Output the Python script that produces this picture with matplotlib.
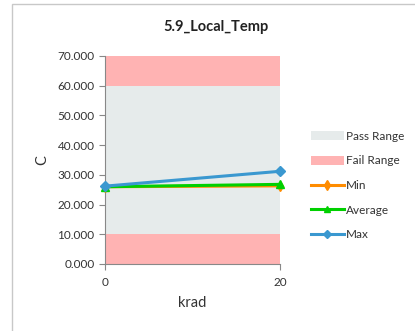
import matplotlib
matplotlib.use("Agg")
import matplotlib.pyplot as plt
from matplotlib.patches import Patch, Rectangle
from matplotlib.lines import Line2D
import numpy as np

plt.rcParams['font.family'] = ['Lato', 'DejaVu Sans']

krad = [0, 20]
min_vals = [26.0, 26.3]
avg_vals = [26.0, 26.8]
max_vals = [26.2, 31.2]
fail_low = [10, 10]
pass_band = [50, 50]
fail_high = [10, 10]
yticks = [0, 10, 20, 30, 40, 50, 60, 70]

c_pass = '#E6EBEB'
c_fail = '#FFB3B3'
c_min = '#FF8C00'
c_avg = '#00D000'
c_max = '#3A98D0'

fig = plt.figure(figsize=(4.15, 3.31), dpi=100)
fig.patches.append(Rectangle((12/415, -0.1), 1.2, 1 - 4/331 + 0.1, transform=fig.transFigure,
                             fill=False, edgecolor='#C8C8C8', linewidth=1.0))
ax = fig.add_axes([105/415, 1 - 264/331, 175/415, 208/331])

b1 = np.array(fail_low, float)
b2 = b1 + np.array(pass_band, float)
b3 = b2 + np.array(fail_high, float)
ax.fill_between(krad, 0, b1, color=c_fail, linewidth=0)
ax.fill_between(krad, b1, b2, color=c_pass, linewidth=0)
ax.fill_between(krad, b2, b3, color=c_fail, linewidth=0)

ax.plot(krad, min_vals, color=c_min, lw=2.2, marker='d', ms=5, zorder=3, clip_on=False)
ax.plot(krad, avg_vals, color=c_avg, lw=2.2, marker='^', ms=6, zorder=4, clip_on=False)
ax.plot(krad, max_vals, color=c_max, lw=2.2, marker='D', ms=5, zorder=5, clip_on=False)

ax.set_xlim(0, 20)
ax.set_ylim(0, 70)
ax.set_yticks(yticks)
ax.set_yticklabels([f"{v:.3f}" for v in yticks], fontsize=8.5, color='#333333')
ax.set_xticks(krad)
ax.set_xticklabels([str(k) for k in krad], fontsize=8.5, color='#333333')
for s in ['top', 'right']:
    ax.spines[s].set_visible(False)
for s in ['left', 'bottom']:
    ax.spines[s].set_color('#888888')
    ax.spines[s].set_linewidth(0.8)
ax.tick_params(axis='both', length=4, color='#888888', width=0.8)
ax.tick_params(axis='x', pad=5)
ax.set_xlabel('krad', fontsize=10.5, labelpad=6, color='#333333')
ax.set_ylabel('C', fontsize=10.5, labelpad=6, color='#333333')
fig.text(216/415, 1 - 27/331, '5.9_Local_Temp', fontsize=10.5, fontweight='bold',
         color='#222222', ha='center', va='center')

handles = [
    Patch(facecolor=c_pass, edgecolor='none'),
    Patch(facecolor=c_fail, edgecolor='none'),
    Line2D([], [], color=c_min, lw=2.2, marker='d', ms=5),
    Line2D([], [], color=c_avg, lw=2.2, marker='^', ms=5),
    Line2D([], [], color=c_max, lw=2.2, marker='D', ms=4),
]
labels = ['Pass Range', 'Fail Range', 'Min', 'Average', 'Max']
fig.legend(handles, labels, loc='upper left', bbox_to_anchor=(305/415, 1 - 125/331),
           frameon=False, fontsize=8.5, handlelength=2.8, handleheight=0.8,
           handletextpad=0.2, labelspacing=1.15, borderpad=0, labelcolor='#333333')

fig.savefig('out.png', dpi=100)
